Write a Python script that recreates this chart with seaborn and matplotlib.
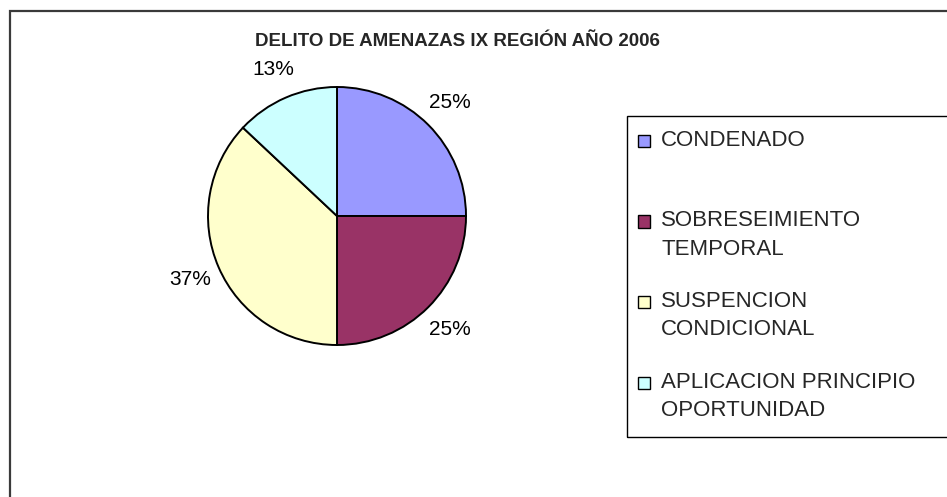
import textwrap
import matplotlib
matplotlib.use("Agg")
import matplotlib.pyplot as plt
from matplotlib.patches import Rectangle
import seaborn as sns

# data
categories = ["CONDENADO", "SOBRESEIMIENTO TEMPORAL", "SUSPENCION CONDICIONAL",
              "APLICACION PRINCIPIO OPORTUNIDAD"]
percentages = [25, 25, 37, 13]
slice_colors = ["#9999FF", "#993366", "#FFFFCC", "#CCFFFF"]
title = "DELITO DE AMENAZAS IX REGIÓN AÑO 2006"

sns.set_theme(style="white")
plt.rcParams["font.family"] = ["Liberation Sans", "DejaVu Sans"]

W, H = 947, 497
fig = plt.figure(figsize=(W / 100, H / 100), dpi=100)
fig.patch.set_facecolor("white")

# outer chart frame (runs off right and bottom edge)
fig.patches.append(Rectangle((10 / W, -0.1), 1.2, (H - 11) / H + 0.1,
                             transform=fig.transFigure, fill=False,
                             edgecolor="#3a3a3a", linewidth=1.6))

# pie
cx, cy, r = 337, 216, 129
ax = fig.add_axes([(cx - r) / W, (H - cy - r) / H, 2 * r / W, 2 * r / H])
palette = sns.color_palette(slice_colors)
wedges, texts = ax.pie(percentages, colors=palette, startangle=90, counterclock=False,
                       labels=[f"{p}%" for p in percentages], labeldistance=1.24,
                       wedgeprops=dict(edgecolor="black", linewidth=1.4),
                       textprops=dict(fontsize=15, color="black"))
for t in texts:
    t.set_ha("center")
    t.set_va("center")
ax.set_xlim(-1, 1)
ax.set_ylim(-1, 1)
ax.set_aspect("auto")
ax.axis("off")

# title
fig.text(457 / W, 1 - 41 / H, title, ha="center", va="center",
         fontsize=13.5, fontweight="bold")

# legend box
fig.patches.append(Rectangle((627 / W, 1 - 437 / H), 0.5, (437 - 116) / H,
                             transform=fig.transFigure, fill=False,
                             edgecolor="black", linewidth=1.0))
for i, (lab, col) in enumerate(zip(categories, palette)):
    y0 = 141 + i * 80.5
    fig.patches.append(Rectangle((638 / W, 1 - (y0 + 6) / H), 12 / W, 12 / H,
                                 transform=fig.transFigure, facecolor=col,
                                 edgecolor="black", linewidth=1.0))
    fig.text(661 / W, 1 - (y0 - 11) / H, textwrap.fill(lab, 20),
             ha="left", va="top", fontsize=16, linespacing=1.45)

fig.savefig("out.png", dpi=100)
